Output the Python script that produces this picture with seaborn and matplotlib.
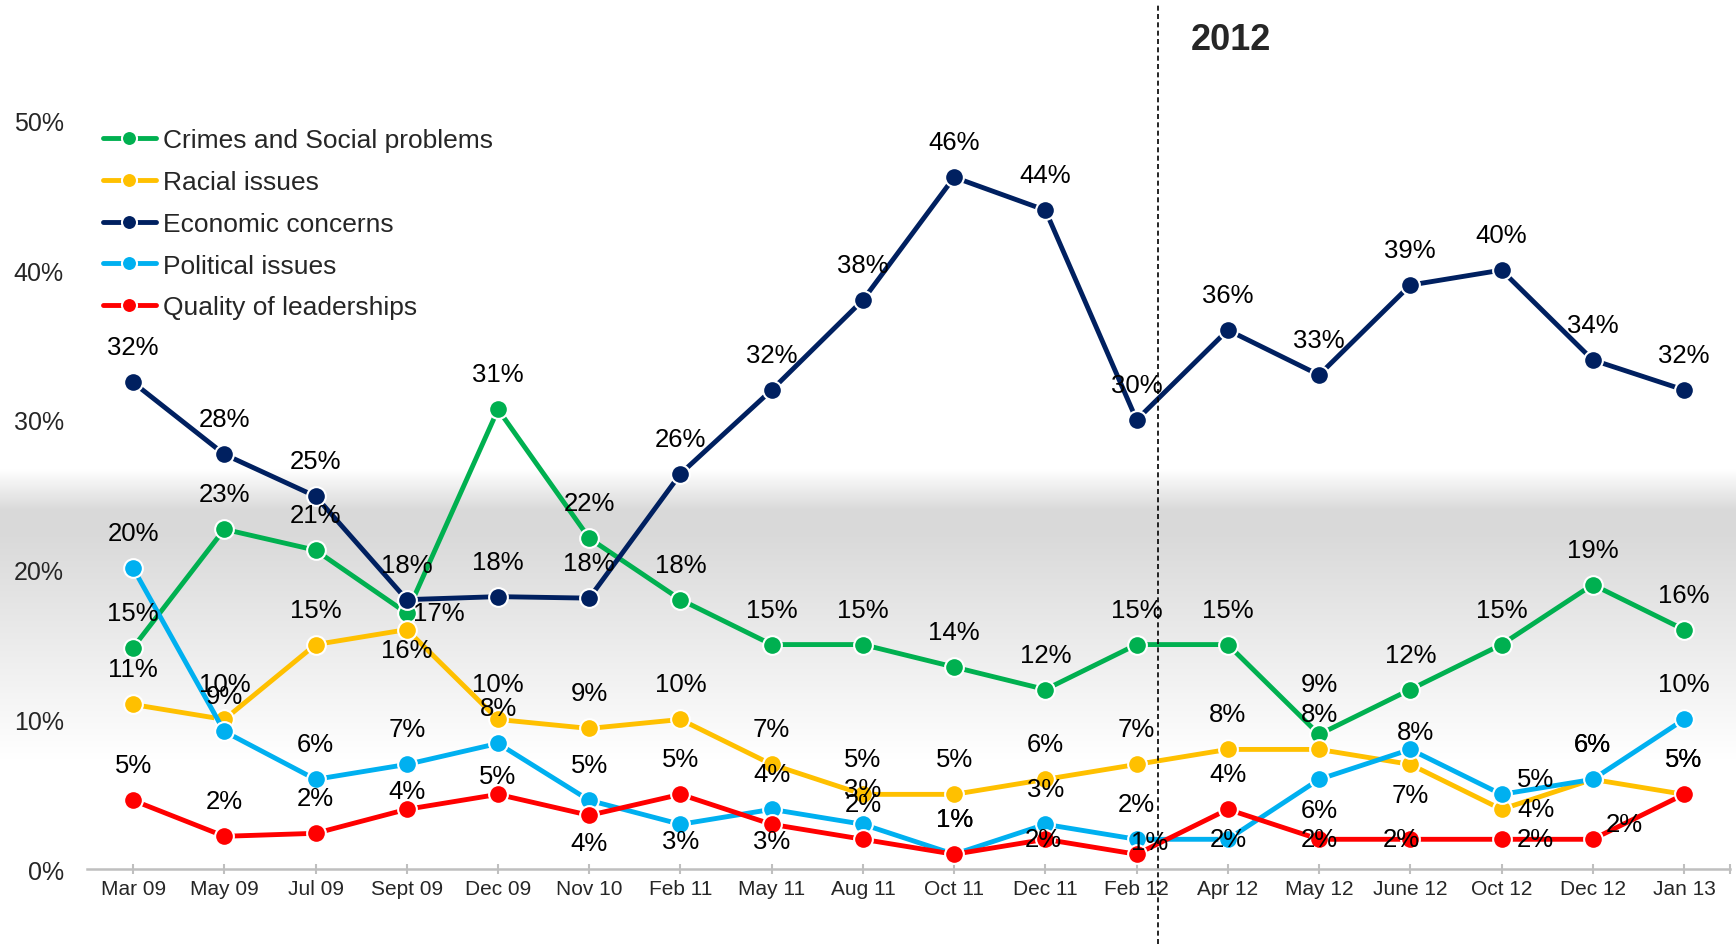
import numpy as np
import pandas as pd
import seaborn as sns
import matplotlib.pyplot as plt
from matplotlib.ticker import FuncFormatter

# survey waves
periods = ['Mar 09', 'May 09', 'Jul 09', 'Sept 09', 'Dec 09', 'Nov 10', 'Feb 11', 'May 11', 'Aug 11',
           'Oct 11', 'Dec 11', 'Feb 12', 'Apr 12', 'May 12', 'June 12', 'Oct 12', 'Dec 12', 'Jan 13']

# % of respondents
crimes = [14.8, 22.7, 21.3, 17.1, 30.7, 22.1, 18.0, 15.0, 15.0, 13.5, 12.0, 15.0, 15.0, 9.0, 12.0, 15.0, 19.0, 16.0]
racial = [11.0, 10.0, 15.0, 16.0, 10.0, 9.4, 10.0, 7.0, 5.0, 5.0, 6.0, 7.0, 8.0, 8.0, 7.0, 4.0, 6.0, 5.0]
economic = [32.5, 27.7, 24.9, 18.0, 18.2, 18.1, 26.4, 32.0, 38.0, 46.2, 44.0, 30.0, 36.0, 33.0, 39.0, 40.0, 34.0, 32.0]
political = [20.1, 9.2, 6.0, 7.0, 8.4, 4.6, 3.0, 4.0, 3.0, 1.0, 3.0, 2.0, 2.0, 6.0, 8.0, 5.0, 6.0, 10.0]
leadership = [4.6, 2.2, 2.4, 4.0, 5.0, 3.6, 5.0, 3.0, 2.0, 1.0, 2.0, 1.0, 4.0, 2.0, 2.0, 2.0, 2.0, 5.0]

series = [
    ('Crimes and Social problems', crimes, '#00B050'),
    ('Racial issues', racial, '#FFC000'),
    ('Economic concerns', economic, '#002060'),
    ('Political issues', political, '#00B0F0'),
    ('Quality of leaderships', leadership, '#FF0000'),
]

# label nudges (pixels, up = +), default is straight above the point
nudge = {
    ('Crimes and Social problems', 3): (32, 0),
    ('Crimes and Social problems', 13): (0, 50),
    ('Racial issues', 3): (0, -20),
    ('Racial issues', 14): (0, -31),
    ('Racial issues', 15): (34, 0),
    ('Political issues', 6): (0, -17),
    ('Political issues', 12): (0, 0),
    ('Political issues', 13): (0, -31),
    ('Political issues', 14): (5, 17),
    ('Political issues', 15): (34, 15),
    ('Quality of leaderships', 3): (0, 18),
    ('Quality of leaderships', 4): (0, 18),
    ('Quality of leaderships', 5): (0, -28),
    ('Quality of leaderships', 7): (0, -17),
    ('Quality of leaderships', 10): (-2, 0),
    ('Quality of leaderships', 11): (13, 12),
    ('Quality of leaderships', 13): (0, 0),
    ('Quality of leaderships', 14): (-9, 0),
    ('Quality of leaderships', 15): (34, 0),
    ('Quality of leaderships', 16): (32, 15),
}

sns.set_style('white')
plt.rcParams['font.family'] = ['Liberation Sans', 'DejaVu Sans']

fig = plt.figure(figsize=(17.36, 9.45), dpi=100)

# grey band in the background
bg = fig.add_axes([0, 0, 1, 1], zorder=-1)
rows = np.arange(945)
shade = np.interp(rows, [0, 470, 510, 532, 760, 945], [255, 255, 218, 217, 255, 255]) / 255
grad = np.repeat(shade[:, None, None], 3, axis=2)
bg.imshow(grad, aspect='auto', extent=[0, 1, 0, 1])
bg.axis('off')

ax = fig.add_axes([0.0504, 0.0791, 0.9459, 0.9209])
ax.set_facecolor('none')

x = np.arange(len(periods))
for name, vals, col in series:
    sns.lineplot(x=x, y=vals, ax=ax, color=col, marker='o', markersize=13.5,
                 markeredgecolor='white', markeredgewidth=1.5, linewidth=3.5,
                 label=name, sort=False)

for name, vals, col in series:
    for i, v in enumerate(vals):
        dx, dy = nudge.get((name, i), (0, 35))
        ax.annotate(f'{round(v)}%', (i, v), xytext=(dx, dy), textcoords='offset pixels',
                    ha='center', va='center', fontsize=18.5, color='black')

ax.set_xlim(-0.5, len(periods) - 0.5)
ax.set_ylim(0, 58.1)
ax.set_xticks(x)
ax.set_xticklabels(periods)
ax.set_xticks([len(periods) - 0.5], minor=True)
ax.set_yticks([0, 10, 20, 30, 40, 50])
ax.yaxis.set_major_formatter(FuncFormatter(lambda v, p: f'{int(v)}%'))
ax.set_xlabel('')
ax.set_ylabel('')

for s in ['top', 'right', 'left']:
    ax.spines[s].set_visible(False)
ax.spines['bottom'].set_color('#bfbfbf')
ax.spines['bottom'].set_linewidth(1.8)
ax.tick_params(axis='x', which='both', direction='inout', length=6.5, width=1.5,
               color='#bfbfbf', labelsize=15, pad=4, bottom=True)
ax.tick_params(axis='y', length=0, pad=17, labelsize=18)

# 2012 divider
ax.axvline(11.24, ymin=-0.086, ymax=0.993, clip_on=False, color='black',
           linewidth=1.2, linestyle=(0, (3, 2)))
fig.text(1231 / 1736, 1 - 40 / 945, '2012', ha='center', va='center',
         fontsize=26, fontweight='bold')

ax.legend(loc='upper left', bbox_to_anchor=(103 / 1736, 0.863), bbox_transform=fig.transFigure,
          frameon=False, fontsize=19, handlelength=2.0, handletextpad=0.26,
          labelspacing=0.67, borderpad=0, borderaxespad=0, markerscale=0.8)

fig.savefig('out.png', dpi=100)
